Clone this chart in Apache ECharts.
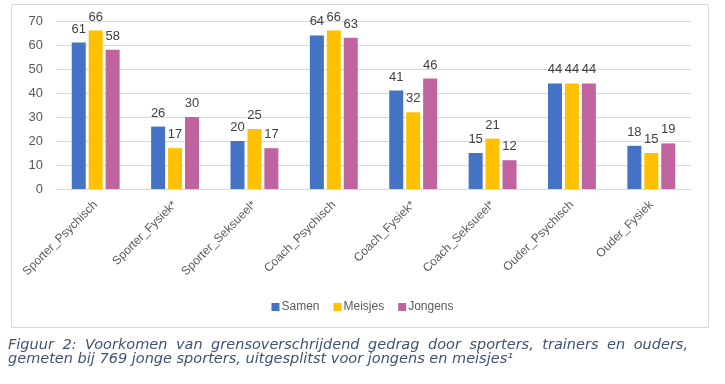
<!DOCTYPE html>
<html>
<head>
<meta charset="utf-8">
<script src="https://cdn.jsdelivr.net/npm/echarts@6/dist/echarts.min.js"></script>
<style>
html,body{margin:0;padding:0;background:#fff;}
#c{width:725px;height:384px;}
</style>
</head>
<body>
<div id="c"></div>
<script>
var categories = ["Sporter_Psychisch","Sporter_Fysiek*","Sporter_Seksueel*","Coach_Psychisch","Coach_Fysiek*","Coach_Seksueel*","Ouder_Psychisch","Ouder_Fysiek"];
var samen   = [61, 26, 20, 64, 41, 15, 44, 18];
var meisjes = [66, 17, 25, 66, 32, 21, 44, 15];
var jongens = [58, 30, 17, 63, 46, 12, 44, 19];
var seriesNames = ["Samen", "Meisjes", "Jongens"];
var yTicks = [0, 10, 20, 30, 40, 50, 60, 70];
var captionLine1 = "Figuur 2: Voorkomen van grensoverschrijdend gedrag door sporters, trainers en ouders,";
var captionLine2 = "gemeten bij 769 jonge sporters, uitgesplitst voor jongens en meisjes\u00B9";

var colors = ["#4472C4", "#FFC000", "#C0649F"];
var chart = echarts.init(document.getElementById('c'), null, {renderer:'canvas'});
var font = "'Liberation Sans', Arial, sans-serif";
var capFont = "italic 14.5px 'DejaVu Sans', Verdana, sans-serif";
var capColor = '#3D5275';

function mk(name, data, color){
  return {
    name: name, type: 'bar', data: data, barWidth: 14, barGap: '21%',
    itemStyle: {color: color},
    label: {show: true, position: 'top', distance: 7, fontSize: 13, color: '#404040', fontFamily: font},
    z: 3
  };
}

// justified first caption line (word by word), left-aligned second line
var ctx = document.createElement('canvas').getContext('2d');
ctx.font = capFont;
var words = captionLine1.split(' ');
var widths = words.map(function(w){ return ctx.measureText(w).width; });
var total = widths.reduce(function(a,b){ return a+b; }, 0);
var capLeft = 8, capRight = 688;
var gap = (capRight - capLeft - total) / (words.length - 1);
var graphics = [
  {type: 'rect', shape: {x: 11.5, y: 4.5, width: 697, height: 323}, style: {fill: 'none', stroke: '#D9D9D9', lineWidth: 1}, silent: true, z: -1}
];
var cx = capLeft;
words.forEach(function(w, i){
  graphics.push({type: 'text', x: cx, y: 345, style: {text: w, font: capFont, fill: capColor, verticalAlign: 'middle', align: 'left'}});
  cx += widths[i] + gap;
});
graphics.push({type: 'text', x: capLeft, y: 359, style: {text: captionLine2, font: capFont, fill: capColor, verticalAlign: 'middle', align: 'left'}});

chart.setOption({
  animation: false,
  backgroundColor: '#ffffff',
  textStyle: {fontFamily: font},
  grid: {left: 56, right: 34, top: 21, bottom: 195, containLabel: false},
  legend: {
    data: seriesNames, top: 296, left: 'center', icon: 'rect',
    itemWidth: 8, itemHeight: 8, itemGap: 14,
    textStyle: {fontSize: 12, color: '#595959', fontFamily: font, padding: [0,0,0,-3]}
  },
  xAxis: {
    type: 'category', data: categories,
    axisLine: {show: true, lineStyle: {color: '#D9D9D9'}},
    axisTick: {show: false},
    axisLabel: {rotate: 45, fontSize: 12, color: '#595959', margin: 14, interval: 0, fontFamily: font}
  },
  yAxis: {
    type: 'value', min: yTicks[0], max: yTicks[yTicks.length-1], interval: 10,
    axisLine: {show: false}, axisTick: {show: false},
    splitLine: {lineStyle: {color: '#D9D9D9'}},
    axisLabel: {fontSize: 13, color: '#595959', margin: 13, fontFamily: font}
  },
  series: [mk(seriesNames[0], samen, colors[0]), mk(seriesNames[1], meisjes, colors[1]), mk(seriesNames[2], jongens, colors[2])],
  graphic: graphics
});
</script>
</body>
</html>
